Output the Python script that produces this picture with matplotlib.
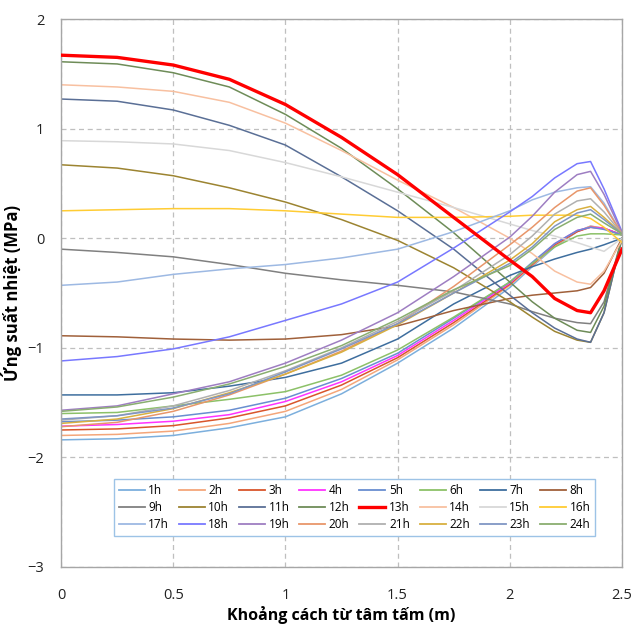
import matplotlib
matplotlib.use("Agg")
import matplotlib.pyplot as plt

plt.rcParams['font.family'] = ['Open Sans', 'DejaVu Sans']

# distance from slab centre (m)
x = [0, 0.25, 0.5, 0.75, 1.0, 1.25, 1.5, 1.75, 2.0, 2.1, 2.2, 2.3, 2.36, 2.42, 2.5]

# thermal stress (MPa) for each hour of the day
s01 = [-1.84, -1.83, -1.80, -1.73, -1.63, -1.42, -1.14, -0.82, -0.45, -0.26, -0.08, 0.06, 0.11, 0.09, 0.03]
s02 = [-1.80, -1.79, -1.76, -1.69, -1.58, -1.38, -1.11, -0.79, -0.43, -0.25, -0.07, 0.06, 0.11, 0.09, 0.03]
s03 = [-1.75, -1.74, -1.71, -1.64, -1.53, -1.34, -1.09, -0.77, -0.42, -0.24, -0.06, 0.06, 0.10, 0.09, 0.03]
s04 = [-1.715, -1.70, -1.67, -1.61, -1.49, -1.31, -1.07, -0.75, -0.41, -0.23, -0.05, 0.07, 0.10, 0.09, 0.03]
s05 = [-1.675, -1.66, -1.63, -1.57, -1.46, -1.28, -1.05, -0.73, -0.40, -0.22, -0.05, 0.07, 0.10, 0.08, 0.03]
s06 = [-1.60, -1.59, -1.53, -1.47, -1.40, -1.25, -1.02, -0.72, -0.40, -0.23, -0.08, 0.02, 0.04, 0.04, 0.03]
s07 = [-1.43, -1.43, -1.41, -1.35, -1.27, -1.14, -0.92, -0.60, -0.34, -0.26, -0.19, -0.13, -0.10, -0.06, 0.0]
s08 = [-0.89, -0.90, -0.92, -0.93, -0.92, -0.88, -0.80, -0.66, -0.55, -0.52, -0.50, -0.48, -0.45, -0.32, 0.0]
s09 = [-0.10, -0.13, -0.17, -0.24, -0.32, -0.38, -0.43, -0.49, -0.60, -0.67, -0.73, -0.77, -0.78, -0.58, 0.0]
s10 = [0.67, 0.64, 0.57, 0.46, 0.33, 0.17, -0.02, -0.27, -0.58, -0.72, -0.85, -0.93, -0.95, -0.68, 0.0]
s11 = [1.27, 1.25, 1.17, 1.03, 0.85, 0.56, 0.25, -0.10, -0.52, -0.68, -0.82, -0.92, -0.95, -0.68, 0.0]
s12 = [1.61, 1.59, 1.51, 1.38, 1.13, 0.82, 0.45, 0.05, -0.40, -0.58, -0.73, -0.84, -0.86, -0.62, 0.0]
s13 = [1.67, 1.65, 1.58, 1.45, 1.22, 0.92, 0.58, 0.19, -0.20, -0.35, -0.55, -0.66, -0.68, -0.48, -0.10]
s14 = [1.40, 1.38, 1.34, 1.24, 1.05, 0.80, 0.53, 0.28, 0.00, -0.14, -0.30, -0.40, -0.42, -0.30, -0.02]
s15 = [0.89, 0.88, 0.86, 0.80, 0.69, 0.56, 0.42, 0.28, 0.13, 0.07, 0.02, -0.04, -0.08, -0.12, 0.0]
s16 = [0.25, 0.26, 0.27, 0.27, 0.25, 0.22, 0.19, 0.19, 0.20, 0.21, 0.21, 0.21, 0.18, 0.10, -0.04]
s17 = [-0.43, -0.40, -0.33, -0.28, -0.24, -0.18, -0.10, 0.06, 0.25, 0.35, 0.42, 0.46, 0.47, 0.32, 0.04]
s18 = [-1.12, -1.08, -1.01, -0.90, -0.75, -0.60, -0.40, -0.09, 0.24, 0.38, 0.55, 0.68, 0.70, 0.45, 0.06]
s19 = [-1.57, -1.53, -1.42, -1.31, -1.14, -0.93, -0.68, -0.35, 0.01, 0.20, 0.42, 0.58, 0.61, 0.40, 0.05]
s20 = [-1.72, -1.68, -1.58, -1.43, -1.24, -1.03, -0.78, -0.44, -0.06, 0.10, 0.28, 0.43, 0.46, 0.30, 0.04]
s21 = [-1.66, -1.62, -1.53, -1.39, -1.21, -1.00, -0.76, -0.48, -0.15, 0.02, 0.22, 0.34, 0.36, 0.24, 0.04]
s22 = [-1.69, -1.65, -1.555, -1.41, -1.24, -1.04, -0.79, -0.50, -0.20, -0.05, 0.15, 0.26, 0.29, 0.19, 0.04]
s23 = [-1.65, -1.62, -1.55, -1.42, -1.22, -1.01, -0.78, -0.50, -0.23, -0.08, 0.11, 0.23, 0.26, 0.17, 0.04]
s24 = [-1.58, -1.54, -1.45, -1.33, -1.17, -0.98, -0.74, -0.47, -0.25, -0.10, 0.08, 0.19, 0.22, 0.14, 0.04]

series = [s01, s02, s03, s04, s05, s06, s07, s08, s09, s10, s11, s12,
          s13, s14, s15, s16, s17, s18, s19, s20, s21, s22, s23, s24]
labels = ['%dh' % (i + 1) for i in range(24)]
colors = ['#7CAFDD', '#F4A67A', '#D9552B', '#FF33FF', '#698ED0', '#8CC168',
          '#3E6E9E', '#A0603A', '#808080', '#9C8431', '#5A6F96', '#6E8C58',
          '#FF0000', '#F8C0A0', '#D8D8D8', '#FFCC33', '#9DB9E3', '#7878FF',
          '#9E7EC2', '#E8966A', '#B0B0B0', '#D8B040', '#8096C4', '#8AAE70']

fig = plt.figure(figsize=(6.35, 6.34), dpi=100)
ax = fig.add_axes([0.0961, 0.1057, 0.8834, 0.8643])

lines = []
for ys, lab, c in zip(series, labels, colors):
    lw = 2.4 if lab == '13h' else 1.1
    ln, = ax.plot(x, ys, color=c, lw=lw, label=lab, zorder=3 if lab == '13h' else 2)
    lines.append(ln)

ax.set_xlim(0, 2.5)
ax.set_ylim(-3, 2)
ax.set_xticks([0, 0.5, 1, 1.5, 2, 2.5])
ax.set_xticklabels(['0', '0.5', '1', '1.5', '2', '2.5'])
ax.set_yticks([-3, -2, -1, 0, 1, 2])
ax.tick_params(length=0, labelsize=10.5, colors='#222222')
ax.tick_params(axis='x', pad=15)
ax.tick_params(axis='y', pad=12)
ax.grid(True, color='#BFBFBF', ls=(0, (4, 3)), lw=0.9)
for sp in ax.spines.values():
    sp.set_color('#A6A6A6')
    sp.set_linewidth(1.0)

ax.set_xlabel('Khoảng cách từ tâm tấm (m)', fontsize=11.5, fontweight='bold', labelpad=2)
ax.set_ylabel('Ứng suất nhiệt (MPa)', fontsize=12, fontweight='bold', labelpad=4)

# legend is filled column by column, so order handles to read 1h..8h across the first row
nrow, ncol = 3, 8
order = [r * ncol + c for c in range(ncol) for r in range(nrow)]
leg = ax.legend([lines[i] for i in order], [labels[i] for i in order],
                ncol=ncol, loc='lower left', bbox_to_anchor=(0.0838, 0.0456, 0.8788, 0.126),
                mode='expand', fontsize=8.5, frameon=True, fancybox=False,
                handlelength=2.2, handletextpad=0.3, columnspacing=0.6,
                labelspacing=0.35, borderpad=0.4, framealpha=1)
leg.get_frame().set_edgecolor('#9DC3E6')
leg.get_frame().set_linewidth(1.0)
for line in leg.get_lines():
    if line.get_label() != '13h':
        line.set_linewidth(1.3)

fig.savefig('out.png', dpi=100)
